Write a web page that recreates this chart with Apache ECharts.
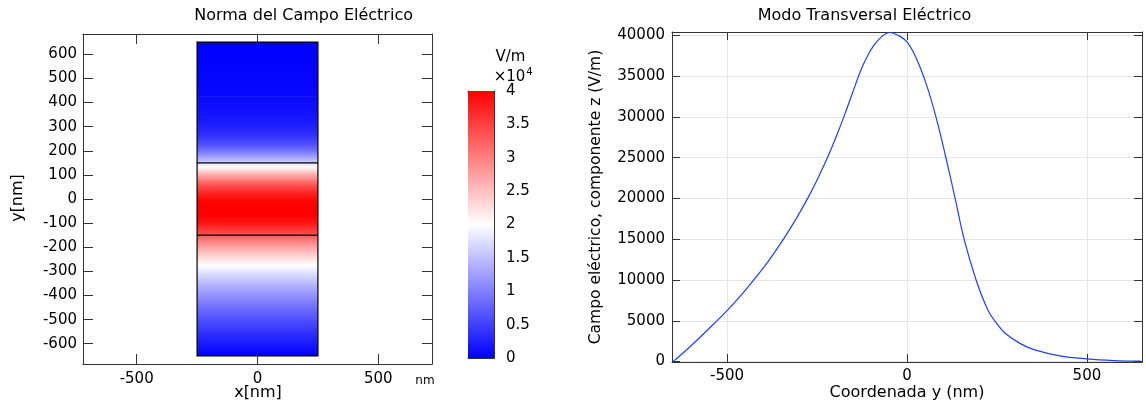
<!DOCTYPE html>
<html>
<head>
<meta charset="utf-8">
<script src="https://cdn.jsdelivr.net/npm/echarts@6/dist/echarts.min.js"></script>
<style>
  html, body { margin: 0; padding: 0; background: #fff; }
  #chart { width: 1146px; height: 405px; }
</style>
</head>
<body>
<div id="chart"></div>
<script>
// ---- Data ----
// y coordinate (nm) and electric field z-component (V/m)
const coordY = [-650, -600, -550, -500, -456, -419, -382, -345, -307, -272, -243, -220, -196, -175, -151, -127, -111, -95, -71, -48, -25, 0, 26, 54, 81, 107, 134, 159, 192, 225, 248, 272, 315, 355, 425, 500, 575, 650];
const fieldEz = [0, 1950, 4060, 6250, 8400, 10370, 12510, 14880, 17580, 20340, 22900, 25100, 27650, 30060, 32990, 35870, 37340, 38580, 39800, 40340, 40010, 39190, 37160, 33950, 29900, 25200, 19950, 14950, 10000, 6300, 4750, 3500, 2200, 1430, 700, 330, 130, 50];

// waveguide geometry (nm)
const rectX = [-250, 250];
const rectY = [-650, 650];
const interfaceY = [-150, 150];

// tick labels
const leftXTicks = [-500, 0, 500];
const leftYTicks = [-600, -500, -400, -300, -200, -100, 0, 100, 200, 300, 400, 500, 600];
const colorTicks = [0, 0.5, 1, 1.5, 2, 2.5, 3, 3.5, 4];
const rightXTicks = [-500, 0, 500];
const rightYTicks = [0, 5000, 10000, 15000, 20000, 25000, 30000, 35000, 40000];

const colorRange = [0, 4];      // ×10^4 V/m
const colorScale = 1e4;
const palette = ['#0000ff', '#ffffff', '#ff0000'];

// ---- helpers ----
const FONT = 'DejaVu Sans';
const FRAME = '#333';
function colorOf(v) {
  let t = (v / colorScale - colorRange[0]) / (colorRange[1] - colorRange[0]);
  t = Math.max(0, Math.min(1, t));
  return echarts.color.lerp(t, palette);
}
function gradStops(vTop, vBot, n) {
  const stops = [];
  for (let k = 0; k <= n; k++) {
    const t = k / n;
    stops.push({ offset: t, color: colorOf(vTop + (vBot - vTop) * t) });
  }
  return stops;
}

const bandData = [];
for (let i = 0; i < coordY.length - 1; i++) {
  bandData.push([coordY[i], coordY[i + 1], fieldEz[i], fieldEz[i + 1]]);
}
const lineData = coordY.map((y, i) => [y, fieldEz[i]]);

function frameAxis(extra) {
  return Object.assign({
    type: 'value',
    axisLine: { show: true, onZero: false, lineStyle: { color: FRAME, width: 1 } },
    axisTick: { show: true, inside: true, length: 9, lineStyle: { color: FRAME, width: 1 } },
    axisLabel: { show: false },
    splitLine: { show: false }
  }, extra);
}
const labelStyle = { color: '#000', fontFamily: FONT, fontSize: 15, formatter: v => String(v) };

const chart = echarts.init(document.getElementById('chart'), null, { renderer: 'canvas' });

const option = {
  animation: false,
  backgroundColor: '#fff',
  grid: [
    { left: 83, top: 34, width: 349, height: 330 },
    { left: 672, top: 32, width: 470, height: 330 },
    { left: 468, top: 91, width: 26, height: 267 }
  ],
  xAxis: [
    // left plot
    frameAxis({ gridIndex: 0, position: 'bottom', min: -722, max: 722,
      axisTick: { show: true, inside: true, length: 10, customValues: leftXTicks, lineStyle: { color: FRAME } },
      axisLabel: Object.assign({ show: true, margin: 8, customValues: leftXTicks }, labelStyle) }),
    frameAxis({ gridIndex: 0, position: 'top', min: -722, max: 722,
      axisTick: { show: true, inside: true, length: 10, customValues: leftXTicks, lineStyle: { color: FRAME } } }),
    // right plot
    frameAxis({ gridIndex: 1, position: 'bottom', min: -653, max: 653,
      axisTick: { show: true, inside: true, length: 8, customValues: rightXTicks, lineStyle: { color: FRAME } },
      axisLabel: Object.assign({ show: true, margin: 7, customValues: rightXTicks }, labelStyle),
      splitLine: { show: true, lineStyle: { color: '#e6e6e6', width: 1 } }, interval: 500 }),
    frameAxis({ gridIndex: 1, position: 'top', min: -653, max: 653,
      axisTick: { show: true, inside: true, length: 8, customValues: rightXTicks, lineStyle: { color: FRAME } } }),
    // colorbar
    frameAxis({ gridIndex: 2, position: 'bottom', min: 0, max: 1, axisTick: { show: false } }),
    frameAxis({ gridIndex: 2, position: 'top', min: 0, max: 1, axisTick: { show: false } })
  ],
  yAxis: [
    // left plot
    frameAxis({ gridIndex: 0, position: 'left', min: -684, max: 684,
      axisTick: { show: true, inside: true, length: 10, customValues: leftYTicks, lineStyle: { color: FRAME } },
      axisLabel: Object.assign({ show: true, margin: 6, customValues: leftYTicks }, labelStyle) }),
    frameAxis({ gridIndex: 0, position: 'right', min: -684, max: 684,
      axisTick: { show: true, inside: true, length: 10, customValues: leftYTicks, lineStyle: { color: FRAME } } }),
    // right plot
    frameAxis({ gridIndex: 1, position: 'left', min: -50, max: 40400,
      axisTick: { show: true, inside: true, length: 8, customValues: rightYTicks, lineStyle: { color: FRAME } },
      axisLabel: Object.assign({ show: true, margin: 7, customValues: rightYTicks }, labelStyle),
      splitLine: { show: true, lineStyle: { color: '#e6e6e6', width: 1 } }, interval: 5000 }),
    frameAxis({ gridIndex: 1, position: 'right', min: -50, max: 40400,
      axisTick: { show: true, inside: true, length: 8, customValues: rightYTicks, lineStyle: { color: FRAME } } }),
    // colorbar
    frameAxis({ gridIndex: 2, position: 'left', min: colorRange[0], max: colorRange[1],
      axisTick: { show: true, inside: true, length: 5, customValues: colorTicks, lineStyle: { color: FRAME } } }),
    frameAxis({ gridIndex: 2, position: 'right', min: colorRange[0], max: colorRange[1],
      axisTick: { show: true, inside: true, length: 5, customValues: colorTicks, lineStyle: { color: FRAME } },
      axisLabel: Object.assign({ show: true, margin: 12, customValues: colorTicks }, labelStyle) })
  ],
  series: [
    {
      type: 'custom', name: 'norma', xAxisIndex: 0, yAxisIndex: 0, clip: true,
      data: bandData,
      encode: { y: [0, 1] },
      z: 2,
      renderItem: function (params, api) {
        const y0 = api.value(0), y1 = api.value(1), v0 = api.value(2), v1 = api.value(3);
        const pTop = api.coord([rectX[0], y1]);
        const pBot = api.coord([rectX[1], y0]);
        return {
          type: 'rect',
          shape: { x: pTop[0], y: pTop[1] - 0.3, width: pBot[0] - pTop[0], height: pBot[1] - pTop[1] + 0.6 },
          style: { fill: new echarts.graphic.LinearGradient(0, 0, 0, 1, gradStops(v1, v0, 12)) }
        };
      }
    },
    {
      type: 'custom', name: 'geometria', xAxisIndex: 0, yAxisIndex: 0,
      data: [[rectX[0], rectY[0], rectX[1], rectY[1]]],
      z: 3,
      renderItem: function (params, api) {
        const a = api.coord([api.value(0), api.value(3)]);
        const b = api.coord([api.value(2), api.value(1)]);
        const children = [{
          type: 'rect',
          shape: { x: a[0], y: a[1], width: b[0] - a[0], height: b[1] - a[1] },
          style: { fill: null, stroke: '#000', lineWidth: 1.2 }
        }];
        interfaceY.forEach(function (yy) {
          const p = api.coord([rectX[0], yy]);
          const q = api.coord([rectX[1], yy]);
          children.push({ type: 'line', shape: { x1: p[0], y1: p[1], x2: q[0], y2: q[1] }, style: { stroke: '#000', lineWidth: 1.2 } });
        });
        return { type: 'group', children: children };
      }
    },
    {
      type: 'custom', name: 'colorbar', xAxisIndex: 4, yAxisIndex: 4,
      data: [[0, colorRange[0], 1, colorRange[1]]],
      z: 2,
      renderItem: function (params, api) {
        const a = api.coord([api.value(0), api.value(3)]);
        const b = api.coord([api.value(2), api.value(1)]);
        return {
          type: 'rect',
          shape: { x: a[0], y: a[1], width: b[0] - a[0], height: b[1] - a[1] },
          style: { fill: new echarts.graphic.LinearGradient(0, 0, 0, 1, gradStops(colorRange[1] * colorScale, colorRange[0] * colorScale, 16)) }
        };
      }
    },
    {
      type: 'line', name: 'Ez', xAxisIndex: 2, yAxisIndex: 2,
      data: lineData,
      showSymbol: false, symbol: 'none',
      smooth: 0.4,
      lineStyle: { color: '#1f3fff', width: 1.2 },
      z: 3
    }
  ],
  graphic: [
    { type: 'text', x: 303.6, y: 16, style: { text: 'Norma del Campo Eléctrico', font: '16px "DejaVu Sans"', fill: '#000', align: 'center', verticalAlign: 'middle' } },
    { type: 'text', x: 864.5, y: 16, style: { text: 'Modo Transversal Eléctrico', font: '16px "DejaVu Sans"', fill: '#000', align: 'center', verticalAlign: 'middle' } },
    { type: 'text', x: 18, y: 198, rotation: Math.PI / 2, style: { text: 'y[nm]', font: '16px "DejaVu Sans"', fill: '#000', align: 'center', verticalAlign: 'middle' } },
    { type: 'text', x: 258, y: 393, style: { text: 'x[nm]', font: '16px "DejaVu Sans"', fill: '#000', align: 'center', verticalAlign: 'middle' } },
    { type: 'text', x: 425, y: 381, style: { text: 'nm', font: '12px "DejaVu Sans"', fill: '#000', align: 'center', verticalAlign: 'middle' } },
    { type: 'text', x: 510.5, y: 57.5, style: { text: 'V/m', font: '15px "DejaVu Sans"', fill: '#000', align: 'center', verticalAlign: 'middle' } },
    { type: 'text', x: 509.5, y: 77, style: { text: '×10', font: '15px "DejaVu Sans"', fill: '#000', align: 'center', verticalAlign: 'middle' } },
    { type: 'text', x: 529.5, y: 72, style: { text: '4', font: '10px "DejaVu Sans"', fill: '#000', align: 'center', verticalAlign: 'middle' } },
    { type: 'text', x: 595.5, y: 197, rotation: Math.PI / 2, style: { text: 'Campo eléctrico, componente z (V/m)', font: '15.5px "DejaVu Sans"', fill: '#000', align: 'center', verticalAlign: 'middle' } },
    { type: 'text', x: 907, y: 393, style: { text: 'Coordenada y (nm)', font: '16px "DejaVu Sans"', fill: '#000', align: 'center', verticalAlign: 'middle' } }
  ]
};
chart.setOption(option);
</script>
</body>
</html>
